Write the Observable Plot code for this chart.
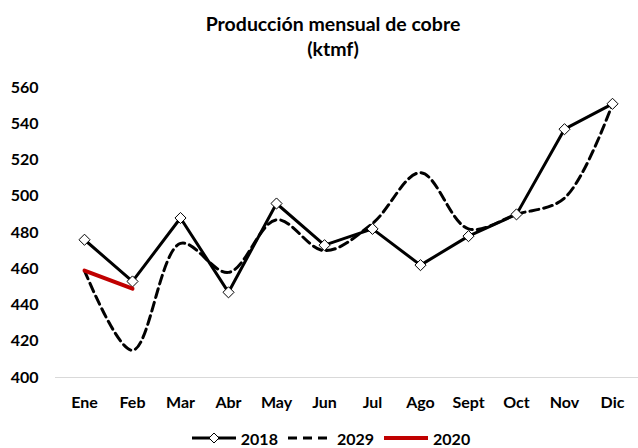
<!DOCTYPE html>
<html><head><meta charset="utf-8">
<script src="https://cdn.jsdelivr.net/npm/d3@7"></script>
<script src="https://cdn.jsdelivr.net/npm/@observablehq/plot@0.6"></script>
<style>
body{margin:0;background:#fff;font-family:Lato,"Open Sans",sans-serif;}
#wrap{width:638px;height:448px;display:flex;flex-direction:column;}
#title{height:62px;box-sizing:border-box;padding-top:11px;padding-left:28px;text-align:center;font-weight:bold;font-size:19.5px;line-height:25px;color:#000;}
#legend{height:26px;box-sizing:border-box;padding-top:6px;display:flex;justify-content:center;align-items:center;padding-left:24px;font-weight:bold;font-size:16px;color:#000;}
#legend .item{display:flex;align-items:center;margin:0 5px;}
#legend svg{margin-right:5px;}
</style></head>
<body><div id="wrap"><div id="title">Producción mensual de cobre<br>(ktmf)</div><div id="chart"></div><div id="legend"></div></div>
<script>
const months = ["Ene","Feb","Mar","Abr","May","Jun","Jul","Ago","Sept","Oct","Nov","Dic"];
const s2018 = [476,453,488,447,496,473,482,462,478,490,537,551];
const s2029 = [459,415,474,458,487,470,485,513,482,490,499,551];
const s2020 = [459,449];
const yTicks = [400,420,440,460,480,500,520,540,560];

const rows = (arr) => arr.map((v,i)=>({m:months[i], v}));
const d18 = rows(s2018), d29 = rows(s2029), d20 = rows(s2020);

const chart = Plot.plot({
  width:638, height:360,
  marginLeft:55, marginRight:0, marginTop:25, marginBottom:45,
  style:{fontFamily:"Lato, 'Open Sans', sans-serif", fontSize:"16px", fontWeight:"bold", color:"#000", background:"#fff"},
  x:{type:"point", domain:months, range:[80,616], padding:0, label:null},
  y:{domain:[400,560], ticks:yTicks, label:null},
  marks:[
    Plot.ruleY([400],{stroke:"#d9d9d9", strokeWidth:1.2}),
    Plot.axisY({ticks:yTicks, tickSize:0, tickPadding:17, label:null, fontWeight:"bold", fontSize:16}),
    Plot.axisX({tickSize:0, tickPadding:19, label:null, fontWeight:"bold", fontSize:16}),
    Plot.line(d29,{x:"m", y:"v", curve:"catmull-rom", stroke:"#000", strokeWidth:3, strokeDasharray:"9,5"}),
    Plot.line(d18,{x:"m", y:"v", stroke:"#000", strokeWidth:3}),
    Plot.dot(d18,{x:"m", y:"v", symbol:"diamond2", r:5, fill:"#fff", stroke:"#000", strokeWidth:1}),
    Plot.line(d20,{x:"m", y:"v", stroke:"#c00000", strokeWidth:4})
  ]
});
document.getElementById("chart").appendChild(chart);

const legendItems = [
  {label:"2018", dash:null, color:"#000", w:3, marker:true},
  {label:"2029", dash:"9,6", color:"#000", w:3, marker:false},
  {label:"2020", dash:null, color:"#c00000", w:4, marker:false}
];
const leg = d3.select("#legend");
for (const it of legendItems){
  const item = leg.append("div").attr("class","item");
  const s = item.append("svg").attr("width",44).attr("height",12);
  s.append("line").attr("x1",0).attr("x2",44).attr("y1",6).attr("y2",6)
    .attr("stroke",it.color).attr("stroke-width",it.w)
    .attr("stroke-dasharray",it.dash);
  if (it.marker) s.append("path").attr("d","M22,1L27,6L22,11L17,6Z").attr("fill","#fff").attr("stroke","#000");
  item.append("span").text(it.label);
}
</script></body></html>
